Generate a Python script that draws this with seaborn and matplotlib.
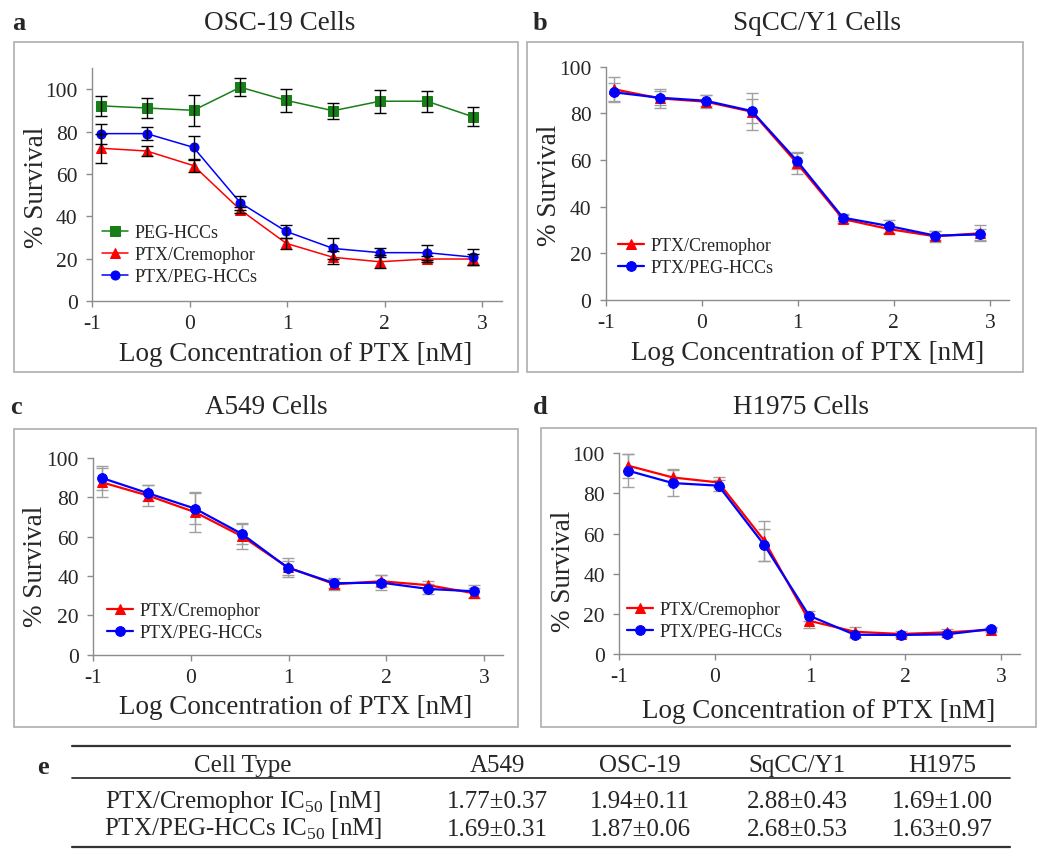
import matplotlib
matplotlib.use("Agg")
import matplotlib.pyplot as plt
from matplotlib.patches import Rectangle
from matplotlib.lines import Line2D
import seaborn as sns

# x positions (log10 of PTX concentration, nM)
log_conc = [-0.91, -0.44, 0.04, 0.52, 0.99, 1.47, 1.95, 2.43, 2.90]

# a: OSC-19
osc_peg = [92.1, 91.1, 90.0, 100.9, 94.7, 89.8, 94.3, 94.3, 87.0]
osc_peg_err = [4.7, 4.5, 7.4, 4.3, 5.3, 3.8, 5.4, 4.9, 4.5]
osc_cre = [72.1, 70.8, 63.9, 43.0, 27.2, 20.6, 18.5, 19.8, 19.8]
osc_cre_err = [6.8, 2.5, 2.8, 1.3, 2.7, 3.1, 3.1, 1.3, 2.6]
osc_hcc = [79.0, 79.0, 72.5, 46.3, 32.8, 24.8, 22.8, 22.8, 20.7]
osc_hcc_err = [4.7, 2.9, 5.3, 3.3, 3.1, 5.1, 2.1, 3.5, 3.8]

# b: SqCC/Y1
sq_cre = [90.3, 86.4, 85.0, 80.7, 58.7, 34.7, 30.4, 27.3, 28.6]
sq_cre_err = [5.2, 3.9, 2.8, 8.0, 4.8, 1.8, 2.0, 2.4, 3.4]
sq_hcc = [89.0, 86.7, 85.4, 81.0, 59.7, 35.3, 31.7, 27.6, 28.1]
sq_hcc_err = [4.0, 3.0, 2.3, 5.0, 3.5, 1.5, 2.8, 2.0, 2.5]

# c: A549
a549_cre = [87.5, 80.8, 72.4, 60.2, 44.4, 35.8, 37.3, 35.3, 31.2]
a549_cre_err = [7.2, 5.5, 10.0, 6.5, 4.7, 2.8, 3.0, 2.2, 2.5]
a549_hcc = [89.7, 82.0, 74.2, 61.4, 44.2, 36.3, 36.6, 33.4, 32.2]
a549_hcc_err = [6.0, 4.0, 8.0, 5.0, 3.5, 2.5, 3.7, 2.5, 3.3]

# d: H1975
h_cre = [93.9, 88.0, 85.5, 56.5, 16.6, 11.1, 10.0, 10.8, 12.1]
h_cre_err = [6.0, 4.0, 2.5, 10.0, 3.5, 2.5, 1.3, 1.5, 1.0]
h_hcc = [91.4, 85.2, 83.9, 54.3, 19.1, 9.6, 9.5, 9.8, 12.5]
h_hcc_err = [8.3, 6.5, 2.8, 8.0, 2.5, 1.8, 1.0, 1.3, 1.0]

# e: IC50 table
cell_types = ["A549", "OSC-19", "SqCC/Y1", "H1975"]
ic50_cre = ["1.77\u00b10.37", "1.94\u00b10.11", "2.88\u00b10.43", "1.69\u00b11.00"]
ic50_hcc = ["1.69\u00b10.31", "1.87\u00b10.06", "2.68\u00b10.53", "1.63\u00b10.97"]

sns.set_theme(style="white")
plt.rcParams['font.family'] = ['Liberation Serif', 'DejaVu Serif']
plt.rcParams['mathtext.fontset'] = 'custom'
plt.rcParams['mathtext.rm'] = 'Liberation Serif'
plt.rcParams['axes.unicode_minus'] = False

GREEN, RED, BLUE = "#187e18", "#ff0000", "#0000ff"
AXC = "#8c8c8c"

fig = plt.figure(figsize=(10.5, 8.62), dpi=100)


def frame(x0, y0, w, h):
    fig.patches.append(Rectangle((x0, y0), w, h, transform=fig.transFigure,
                                 fill=False, edgecolor="#b4b4b4", lw=1.3))


def setup(ax, ytop, ylab_xy, xlab_xy):
    ax.set_xlim(-1, 3.2)
    ax.set_ylim(0, ytop)
    ax.set_xticks([-1, 0, 1, 2, 3])
    ax.set_yticks([0, 20, 40, 60, 80, 100])
    for s in ["top", "right"]:
        ax.spines[s].set_visible(False)
    for s in ["left", "bottom"]:
        ax.spines[s].set_color(AXC)
        ax.spines[s].set_linewidth(1.0)
    ax.tick_params(axis="both", which="major", direction="out", length=4,
                   width=1, color=AXC, labelsize=15.5,
                   bottom=True, left=True)
    ax.tick_params(axis="x", pad=5.5)
    ax.tick_params(axis="y", pad=6.3)
    ax.set_ylabel("% Survival", fontsize=19.5, va="center")
    ax.set_xlabel("Log Concentration of PTX [nM]", fontsize=19.5, va="center")
    ax.yaxis.set_label_coords(*ylab_xy)
    ax.xaxis.set_label_coords(*xlab_xy)
    ax.grid(False)


def series(ax, y, err, color, marker, label, ecolor, lw, ms, ezorder):
    sns.lineplot(x=log_conc, y=y, ax=ax, color=color, marker=marker,
                 markersize=ms, markeredgecolor=color, linewidth=lw,
                 label=label, zorder=4)
    ax.errorbar(log_conc, y, yerr=err, fmt="none", ecolor=ecolor,
                elinewidth=1.0, capsize=4, capthick=1.0, zorder=ezorder)


def legend(ax, anchor):
    ax.legend(loc="upper left", bbox_to_anchor=anchor, frameon=False,
              fontsize=13, handlelength=1.45, handletextpad=0.35,
              borderaxespad=0, borderpad=0, labelspacing=0.28)


# panel frames
frame(0.0133, 0.5673, 0.4800, 0.3828)
frame(0.5019, 0.5673, 0.4724, 0.3828)
frame(0.0133, 0.1555, 0.4800, 0.3457)
frame(0.5152, 0.1555, 0.4714, 0.3469)

# a
ax_a = fig.add_axes([0.0876, 0.6497, 0.3905, 0.2703])
series(ax_a, osc_peg, osc_peg_err, GREEN, "s", "PEG-HCCs", "black", 1.1, 6.5, 5)
series(ax_a, osc_cre, osc_cre_err, RED, "^", "PTX/Cremophor", "black", 1.1, 6.5, 5)
series(ax_a, osc_hcc, osc_hcc_err, BLUE, "o", "PTX/PEG-HCCs", "black", 1.1, 6.5, 5)
setup(ax_a, 110, (-0.135, 0.49), (0.497, -0.227))
legend(ax_a, (0.024, 0.33))

# b
ax_b = fig.add_axes([0.5769, 0.6508, 0.3841, 0.2707])
series(ax_b, sq_cre, sq_cre_err, RED, "^", "PTX/Cremophor", "#a0a0a0", 1.6, 7, 2)
series(ax_b, sq_hcc, sq_hcc_err, BLUE, "o", "PTX/PEG-HCCs", "#a0a0a0", 1.6, 7, 2)
setup(ax_b, 100, (-0.140, 0.497), (0.50, -0.223))
legend(ax_b, (0.03, 0.27))

# c
ax_c = fig.add_axes([0.0889, 0.2393, 0.3905, 0.2285])
series(ax_c, a549_cre, a549_cre_err, RED, "^", "PTX/Cremophor", "#a0a0a0", 1.6, 7, 2)
series(ax_c, a549_hcc, a549_hcc_err, BLUE, "o", "PTX/PEG-HCCs", "#a0a0a0", 1.6, 7, 2)
setup(ax_c, 100, (-0.14, 0.452), (0.494, -0.265))
legend(ax_c, (0.033, 0.267))

# d
ax_d = fig.add_axes([0.5898, 0.2401, 0.3816, 0.2328])
series(ax_d, h_cre, h_cre_err, RED, "^", "PTX/Cremophor", "#a0a0a0", 1.6, 7, 2)
series(ax_d, h_hcc, h_hcc_err, BLUE, "o", "PTX/PEG-HCCs", "#a0a0a0", 1.6, 7, 2)
setup(ax_d, 100, (-0.14, 0.415), (0.498, -0.282))
legend(ax_d, (0.019, 0.264))

# titles and panel letters (pixel positions -> figure fraction)
W, H = 1050.0, 862.0
titles = [("a", 12, 23, "OSC-19 Cells", 280),
          ("b", 533, 23, "SqCC/Y1 Cells", 817),
          ("c", 10, 408, "A549 Cells", 266),
          ("d", 533, 408, "H1975 Cells", 801)]
for letter, lx, yy, title, tx in titles:
    fig.text(lx / W, 1 - yy / H, letter, fontsize=19, fontweight="bold",
             ha="left", va="center")
    fig.text(tx / W, 1 - yy / H, title, fontsize=19.5, ha="center", va="center")

# e: table
fig.text(37 / W, 1 - 768 / H, "e", fontsize=19, fontweight="bold",
         ha="left", va="center")
x_left, x_right = 72 / W, 1010 / W
for yy, lw in [(747, 1.6), (779, 1.3), (848, 1.6)]:
    fig.add_artist(Line2D([x_left, x_right], [1 - yy / H, 1 - yy / H],
                          transform=fig.transFigure, color="#333333", lw=lw))
col_x = [497, 640, 797, 942]
row_label_x = 243
row_base = [772, 808, 836]
tfs = 18
fig.text(row_label_x / W, 1 - row_base[0] / H, "Cell Type", fontsize=tfs,
         ha="center", va="baseline")
fig.text(row_label_x / W, 1 - row_base[1] / H, r"PTX/Cremophor IC$_{\mathrm{50}}$ [nM]",
         fontsize=tfs, ha="center", va="baseline")
fig.text(row_label_x / W, 1 - row_base[2] / H, r"PTX/PEG-HCCs IC$_{\mathrm{50}}$ [nM]",
         fontsize=tfs, ha="center", va="baseline")
for cx, name, v1, v2 in zip(col_x, cell_types, ic50_cre, ic50_hcc):
    for yy, txt in zip(row_base, [name, v1, v2]):
        fig.text(cx / W, 1 - yy / H, txt, fontsize=tfs, ha="center", va="baseline")

fig.savefig("out.png", dpi=100, facecolor="white")
